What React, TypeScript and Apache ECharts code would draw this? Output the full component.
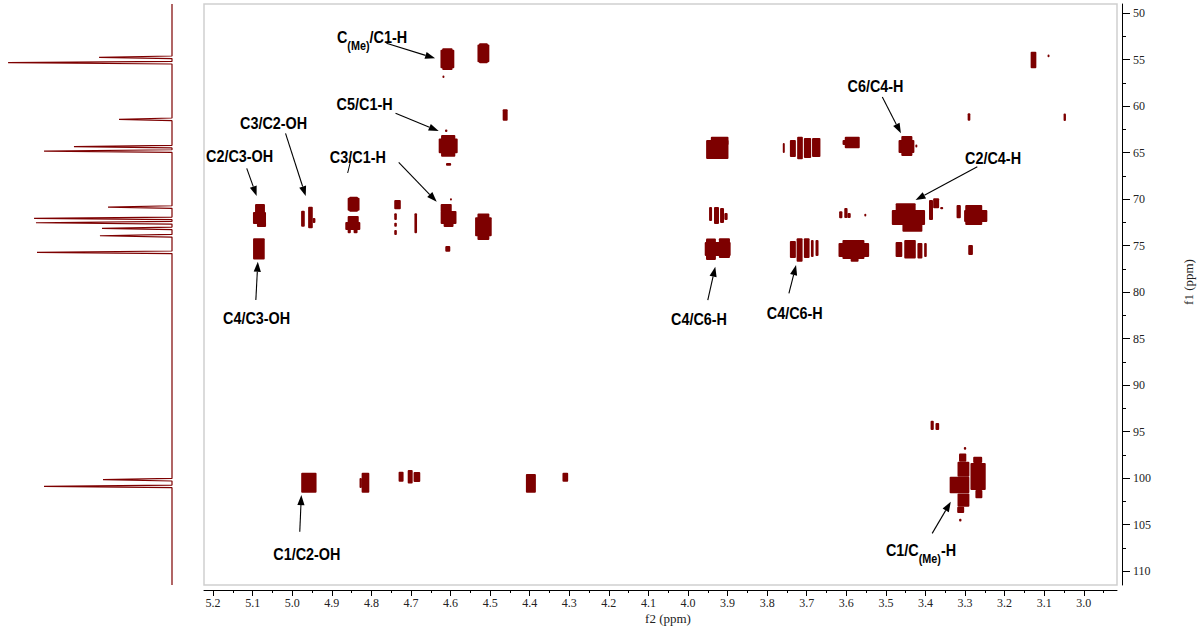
import React, { useEffect, useRef } from 'react';
import * as echarts from 'echarts';

// ---- colours and fonts -------------------------------------------------
const PEAK_RED = '#7d0000';
const LABEL_FONT = 'Liberation Sans, Arial, Helvetica, sans-serif';
const AXIS_FONT = 'Liberation Serif, Times New Roman, serif';

// ---- axes ----------------------------------------------------------------
const f2Range = [2.916, 5.223]; // 1H, ppm
const f1Range = [49.03, 111.5]; // 13C, ppm

const f2Ticks = [5.2, 5.1, 5.0, 4.9, 4.8, 4.7, 4.6, 4.5, 4.4, 4.3, 4.2, 4.1, 4.0, 3.9, 3.8, 3.7, 3.6, 3.5, 3.4, 3.3, 3.2, 3.1, 3.0];
const f2MinorTicks = [5.15, 5.05, 4.95, 4.85, 4.75, 4.65, 4.55, 4.45, 4.35, 4.25, 4.15, 4.05, 3.95, 3.85, 3.75, 3.65, 3.55, 3.45, 3.35, 3.25, 3.15, 3.05, 2.95];
const f1Ticks = [50, 55, 60, 65, 70, 75, 80, 85, 90, 95, 100, 105, 110];
const f1MinorTicks = [52.5, 57.5, 62.5, 67.5, 72.5, 77.5, 82.5, 87.5, 92.5, 97.5, 102.5, 107.5];

// ---- 13C projection: [shift (ppm), relative height] ---------------------
const carbonPeaks = [
  [54.76, 42.4], [55.34, 95.3], [61.43, 30.8], [64.37, 57.0], [64.84, 74.4],
  [70.86, 37.2], [72.08, 80.2], [72.55, 79.1], [73.15, 40.7], [73.95, 41.9],
  [75.73, 78.5], [100.18, 40.1], [100.9, 74.4],
];

// ---- HMBC contour patches: [f2 centre, f1 centre, f2 extent, f1 extent] ---
const methylRows = [
  [4.608, 54.95, 0.035, 2.0], [4.608, 54.95, 0.026, 2.33], [4.618, 56.85, 0.005, 0.25],
  [4.517, 54.33, 0.030, 1.9], [4.517, 54.33, 0.022, 2.15],
  [3.127, 55.05, 0.0144, 1.78], [3.089, 54.6, 0.005, 0.3],
];

const c6Rows = [
  [4.606, 64.28, 0.048, 1.6], [4.606, 64.28, 0.036, 2.33], [4.611, 62.66, 0.006, 0.25], [4.605, 66.27, 0.013, 0.3],
  [4.462, 60.97, 0.0126, 1.23],
  [3.926, 64.68, 0.0565, 2.04], [3.920, 63.75, 0.0446, 0.89],
  [3.758, 64.52, 0.005, 1.08], [3.735, 64.57, 0.0151, 1.83], [3.717, 64.52, 0.0144, 2.43],
  [3.698, 64.52, 0.0184, 2.15], [3.676, 64.46, 0.0212, 2.04],
  [3.605, 63.92, 0.009, 0.54], [3.585, 63.92, 0.0378, 1.25],
  [3.448, 64.35, 0.040, 1.4], [3.447, 64.3, 0.028, 2.15], [3.423, 64.3, 0.005, 0.32],
  [3.29, 61.18, 0.0068, 0.8], [3.048, 61.2, 0.006, 0.8],
];

const ringRows = [
  [5.0815, 71.13, 0.025, 1.18], [5.0828, 72.04, 0.033, 1.29], [5.0777, 72.74, 0.023, 0.54],
  [5.0843, 75.36, 0.0295, 2.26],
  [4.973, 72.12, 0.0093, 1.72], [4.954, 71.99, 0.0118, 2.32], [4.945, 72.31, 0.007, 0.54],
  [4.845, 70.56, 0.030, 1.4], [4.845, 70.56, 0.022, 1.61],
  [4.846, 72.53, 0.028, 1.4], [4.847, 72.9, 0.038, 0.86], [4.856, 73.46, 0.008, 0.46], [4.840, 73.46, 0.01, 0.46],
  [4.734, 70.61, 0.0166, 1.0], [4.739, 71.9, 0.0066, 0.72], [4.739, 72.76, 0.0066, 0.43], [4.739, 73.6, 0.0066, 0.54],
  [4.688, 72.61, 0.0066, 2.15],
  [4.611, 70.97, 0.028, 0.86], [4.605, 71.99, 0.040, 1.4], [4.605, 72.8, 0.025, 0.43],
  [4.599, 70.03, 0.005, 0.25], [4.607, 75.36, 0.0126, 0.61],
  [4.517, 72.98, 0.030, 2.87], [4.517, 72.98, 0.042, 2.04],
  [3.943, 71.61, 0.0076, 1.5], [3.928, 71.77, 0.0126, 1.83], [3.914, 71.77, 0.010, 1.61], [3.904, 71.88, 0.0083, 0.75],
  [3.925, 75.38, 0.0655, 1.5], [3.942, 75.4, 0.025, 2.33], [3.908, 75.29, 0.028, 2.12],
  [3.735, 75.43, 0.0151, 1.83], [3.718, 75.48, 0.0151, 2.52], [3.700, 75.29, 0.0144, 2.12],
  [3.686, 75.32, 0.0068, 1.83], [3.674, 75.27, 0.0076, 1.72],
  [3.614, 71.69, 0.0083, 0.75], [3.601, 71.5, 0.0083, 1.07], [3.593, 71.77, 0.0083, 0.54], [3.552, 71.72, 0.005, 0.3],
  [3.581, 75.48, 0.0774, 1.5], [3.582, 75.43, 0.0555, 2.04], [3.579, 76.55, 0.02, 0.4],
  [3.450, 70.88, 0.0504, 0.83], [3.443, 71.99, 0.084, 1.61], [3.433, 73.1, 0.0504, 0.83],
  [3.386, 71.18, 0.0101, 2.15], [3.373, 70.46, 0.0151, 1.08], [3.359, 70.97, 0.0076, 0.25],
  [3.316, 71.36, 0.0108, 1.43], [3.273, 71.83, 0.0587, 1.29], [3.278, 71.72, 0.0429, 2.15],
  [3.467, 75.43, 0.0169, 1.61], [3.439, 75.4, 0.0292, 1.97], [3.414, 75.56, 0.0126, 1.65], [3.400, 75.48, 0.0066, 1.5],
  [3.286, 75.48, 0.0118, 1.08],
];

const anomericRows = [
  [4.958, 100.5, 0.0388, 2.15],
  [4.815, 100.5, 0.0194, 2.15], [4.827, 100.54, 0.006, 1.08],
  [4.725, 99.86, 0.0126, 1.08], [4.702, 99.86, 0.0126, 1.43], [4.685, 99.89, 0.0169, 1.08],
  [4.397, 100.57, 0.0252, 2.0], [4.310, 99.91, 0.0144, 0.97],
  [3.383, 94.33, 0.008, 1.0], [3.370, 94.46, 0.0093, 0.75],
  [3.304, 99.05, 0.030, 1.61], [3.314, 100.75, 0.0497, 1.78], [3.304, 102.37, 0.030, 1.44],
  [3.311, 103.43, 0.0176, 0.68], [3.312, 104.52, 0.006, 0.3], [3.300, 96.81, 0.006, 0.3],
  [3.306, 97.8, 0.0184, 0.9], [3.268, 98.05, 0.0227, 0.68], [3.267, 99.84, 0.0386, 2.9],
  [3.265, 101.74, 0.0176, 0.89],
];

// ---- correlation labels: text parts ([text, subscript?]), anchor, arrow tail/head (f2, f1)
type Part = [string, boolean?];
const annotations: { parts: Part[]; at: number[]; tail: number[]; head: number[] }[] = [
  { parts: [['C'], ['(Me)', true], ['/C1-H']], at: [4.887, 52.63], tail: [4.762, 53.26], head: [4.639, 54.87] },
  { parts: [['C5/C1-H']], at: [4.888, 59.78], tail: [4.739, 60.78], head: [4.630, 62.69] },
  { parts: [['C3/C1-H']], at: [4.905, 65.48], tail: [4.731, 66.05], head: [4.635, 70.29] },
  { parts: [['C2/C3-OH']], at: [5.218, 65.38], tail: [5.115, 66.70], head: [5.090, 69.68] },
  { parts: [['C3/C2-OH']], at: [5.132, 61.83], tail: [5.017, 62.94], head: [4.966, 69.68] },
  { parts: [['C4/C3-OH']], at: [5.175, 82.8], tail: [5.092, 80.86], head: [5.087, 76.74] },
  { parts: [['C4/C6-H']], at: [4.043, 82.9], tail: [3.950, 80.86], head: [3.931, 77.28] },
  { parts: [['C4/C6-H']], at: [3.801, 82.26], tail: [3.745, 80.14], head: [3.727, 77.10] },
  { parts: [['C6/C4-H']], at: [3.597, 57.85], tail: [3.509, 59.03], head: [3.462, 62.94] },
  { parts: [['C2/C4-H']], at: [3.300, 65.59], tail: [3.269, 66.53], head: [3.425, 70.11] },
  { parts: [['C1/C2-OH']], at: [5.048, 108.17], tail: [4.981, 105.77], head: [4.977, 101.83] },
  { parts: [['C1/C'], ['(Me)', true], ['-H']], at: [3.500, 107.74], tail: [3.383, 105.95], head: [3.336, 102.55] },
];

// small stray stroke under the "C3/C1-H" label
const strayStroke = [[4.852, 65.81], [4.860, 67.2]];

// projection trace: a thin spike for every carbon line
const projectionTrace: number[][] = [[0, f1Range[0]]];
carbonPeaks.forEach(([ppm, h]) => {
  projectionTrace.push([0, ppm - 0.14], [h, ppm], [0, ppm + 0.14]);
});
projectionTrace.push([0, f1Range[1]]);

const renderPatch = (params: any, api: any) => {
  const c = api.coord([api.value(0), api.value(1)]);
  const s = api.size([api.value(2), api.value(3)], [api.value(0), api.value(1)]);
  return {
    type: 'rect',
    shape: { x: c[0] - s[0] / 2, y: c[1] - s[1] / 2, width: s[0], height: s[1], r: 1 },
    style: { fill: PEAK_RED },
  };
};

const patchSeries = (name: string, data: number[][]) => ({
  name,
  type: 'custom',
  xAxisIndex: 0,
  yAxisIndex: 0,
  renderItem: renderPatch,
  encode: { x: 0, y: 1 },
  clip: true,
  data,
});

const measureCtx = typeof document !== 'undefined' ? document.createElement('canvas').getContext('2d') : null;
const textWidth = (t: string, font: string) => {
  if (!measureCtx) return t.length * 8;
  measureCtx.font = font;
  return measureCtx.measureText(t).width;
};

function buildGraphics(chart: any) {
  const toPx = (p: number[]) => chart.convertToPixel({ xAxisIndex: 0, yAxisIndex: 0 }, p) as number[];
  const els: any[] = [];
  annotations.forEach((a) => {
    const [x, y] = toPx(a.at);
    let cx = 0;
    const children: any[] = [];
    a.parts.forEach(([t, sub]) => {
      const font = sub ? `bold 12px ${LABEL_FONT}` : `bold 16px ${LABEL_FONT}`;
      children.push({
        type: 'text',
        x: cx,
        y: sub ? 8.5 : 0,
        style: { text: t, font, fill: '#000', textAlign: 'left', textVerticalAlign: 'middle', align: 'left', verticalAlign: 'middle' },
      });
      cx += textWidth(t, font);
    });
    els.push({ type: 'group', x, y, scaleX: 0.9, children });

    const [tx, ty] = toPx(a.tail);
    const [hx, hy] = toPx(a.head);
    const len = Math.hypot(hx - tx, hy - ty);
    const ux = (hx - tx) / len;
    const uy = (hy - ty) / len;
    const bx = hx - ux * 10;
    const by = hy - uy * 10;
    els.push({
      type: 'line',
      shape: { x1: tx, y1: ty, x2: bx, y2: by },
      style: { stroke: '#000', lineWidth: 1.1 },
    });
    els.push({
      type: 'polygon',
      shape: { points: [[hx, hy], [bx - uy * 3.6, by + ux * 3.6], [bx + uy * 3.6, by - ux * 3.6]] },
      style: { fill: '#000' },
    });
  });
  const [s1, s2] = strayStroke.map(toPx);
  els.push({ type: 'line', shape: { x1: s1[0], y1: s1[1], x2: s2[0], y2: s2[1] }, style: { stroke: '#000', lineWidth: 1 } });

  els.push({
    type: 'text',
    x: 668,
    y: 618,
    style: { text: 'f2 (ppm)', font: `13px ${AXIS_FONT}`, fill: '#222', textAlign: 'center', textVerticalAlign: 'middle', align: 'center', verticalAlign: 'middle' },
  });
  els.push({
    type: 'text',
    x: 1188,
    y: 282,
    rotation: Math.PI / 2,
    style: { text: 'f1 (ppm)', font: `13px ${AXIS_FONT}`, fill: '#222', textAlign: 'center', textVerticalAlign: 'middle', align: 'center', verticalAlign: 'middle' },
  });
  return els;
}

const axisLabelStyle = { fontFamily: AXIS_FONT, fontSize: 12, fontWeight: 'normal', color: '#222' };

const option: any = {
  animation: false,
  backgroundColor: '#fff',
  textStyle: { fontFamily: AXIS_FONT },
  grid: [
    { left: 204, top: 4, width: 913, height: 581, show: true, borderColor: '#cfcfcf', borderWidth: 1.5, backgroundColor: 'transparent' },
    { left: 0, top: 4, width: 172, height: 581 },
  ],
  xAxis: [
    {
      gridIndex: 0, type: 'value', inverse: true, min: f2Range[0], max: f2Range[1], position: 'bottom', offset: 5,
      axisLine: { show: true, lineStyle: { color: '#000', width: 1 } },
      axisTick: { show: true, length: 6, customValues: f2Ticks, lineStyle: { color: '#000' } },
      axisLabel: { ...axisLabelStyle, margin: 7, customValues: f2Ticks, formatter: (v: number) => v.toFixed(1) },
      splitLine: { show: false },
    },
    {
      gridIndex: 0, type: 'value', inverse: true, min: f2Range[0], max: f2Range[1], position: 'bottom', offset: 5,
      axisLine: { show: false },
      axisTick: { show: true, length: 3, customValues: f2MinorTicks, lineStyle: { color: '#000' } },
      axisLabel: { show: false },
      splitLine: { show: false },
    },
    { gridIndex: 1, type: 'value', inverse: true, min: 0, max: 100, show: false },
  ],
  yAxis: [
    {
      gridIndex: 0, type: 'value', inverse: true, min: f1Range[0], max: f1Range[1], position: 'right', offset: 5,
      axisLine: { show: true, lineStyle: { color: '#000', width: 1 } },
      axisTick: { show: true, length: 8, customValues: f1Ticks, lineStyle: { color: '#000' } },
      axisLabel: { ...axisLabelStyle, margin: 11, customValues: f1Ticks },
      splitLine: { show: false },
    },
    {
      gridIndex: 0, type: 'value', inverse: true, min: f1Range[0], max: f1Range[1], position: 'right', offset: 5,
      axisLine: { show: false },
      axisTick: { show: true, length: 4, customValues: f1MinorTicks, lineStyle: { color: '#000' } },
      axisLabel: { show: false },
      splitLine: { show: false },
    },
    { gridIndex: 1, type: 'value', inverse: true, min: f1Range[0], max: f1Range[1], show: false },
  ],
  series: [
    patchSeries('methyl', methylRows),
    patchSeries('C6', c6Rows),
    patchSeries('ring', ringRows),
    patchSeries('anomeric', anomericRows),
    {
      name: '13C',
      type: 'line',
      xAxisIndex: 2,
      yAxisIndex: 2,
      showSymbol: false,
      symbol: 'none',
      clip: false,
      lineStyle: { color: PEAK_RED, width: 1.2 },
      data: projectionTrace,
    },
  ],
};

export default function App() {
  const ref = useRef<HTMLDivElement>(null);
  useEffect(() => {
    if (!ref.current) return;
    const chart = echarts.init(ref.current, null, { renderer: 'svg' });
    chart.setOption(option);
    chart.setOption({ graphic: buildGraphics(chart) });
    return () => chart.dispose();
  }, []);
  return (
    <div
      ref={ref}
      style={{ position: 'fixed', left: 0, top: 0, width: 1204, height: 634, background: '#fff' }}
    />
  );
}
